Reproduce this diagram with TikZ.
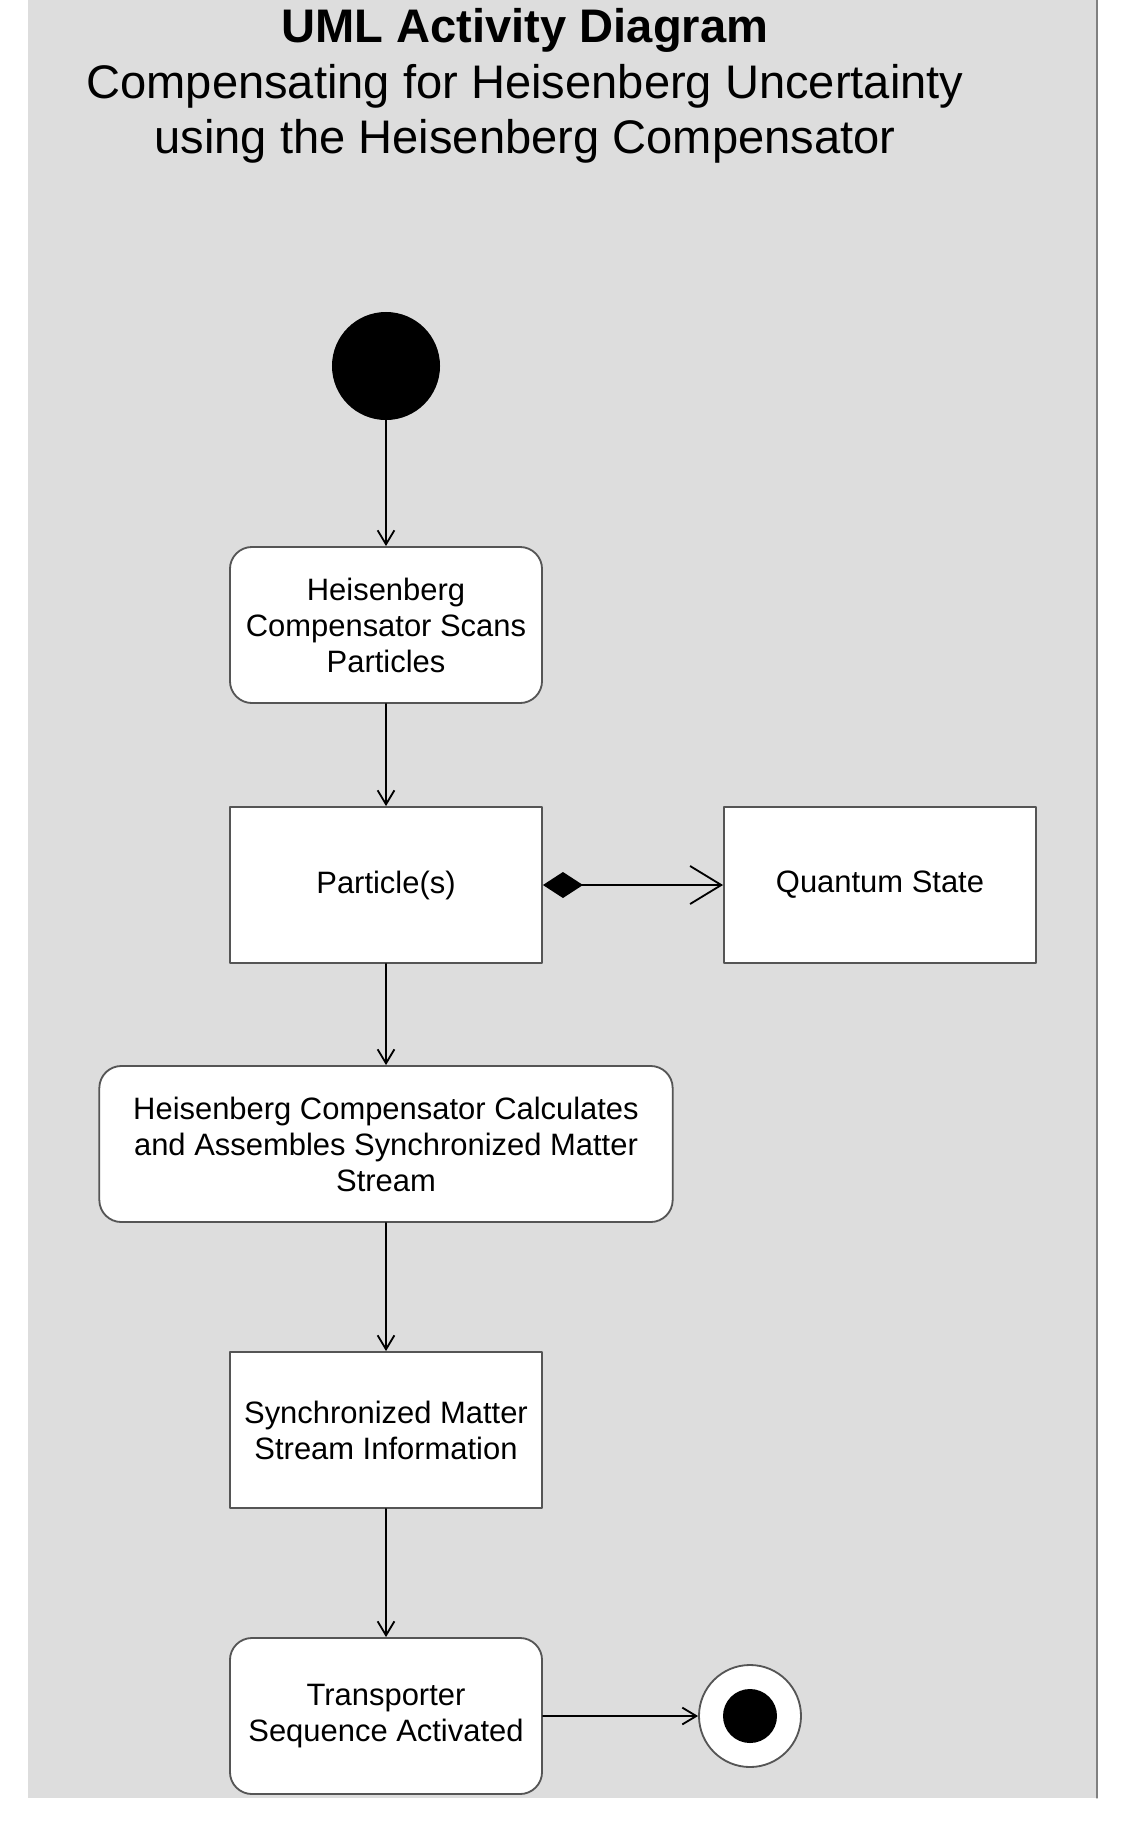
\documentclass[tikz,border=0pt]{standalone}
\usepackage{fontspec}
\setmainfont{Liberation Sans}
\usetikzlibrary{arrows.meta}

\definecolor{panelgrey}{RGB}{221,221,221}
\definecolor{edgegrey}{RGB}{85,85,85}

\newcommand{\titlefont}{\fontsize{33.5}{39.5}\selectfont}
\newcommand{\actfont}{\fontsize{22}{25.6}\selectfont}

\begin{document}
\begin{tikzpicture}[x=0.025cm, y=-0.025cm, line cap=round, line join=round]

  % ===== Styles =====
  \tikzset{
    action/.style={draw=edgegrey, fill=white, line width=1.3pt, rounded corners=0.55cm,
      minimum width=7.8cm, minimum height=3.9cm, inner sep=0pt, align=center, font=\actfont},
    object/.style={action, sharp corners},
    flow/.style={-{Straight Barb[length=0.35cm, width=0.42cm]}, line width=1.3pt},
  }

  % ===== Page and panel =====
  \useasboundingbox (0,0) rectangle (1128,1830);
  \fill[panelgrey] (28,0) rectangle (1097,1798);
  \draw[gray, line width=0.8pt] (1097,0) -- (1097,1798);

  % ===== Title =====
  \node[align=center, font=\titlefont] (title) at (525,86)
    {\textbf{UML Activity Diagram}\\Compensating for Heisenberg Uncertainty\\using the Heisenberg Compensator};

  % ===== Nodes =====
  \node[circle, fill=black, minimum size=2.7cm, inner sep=0pt] (start) at (386,366) {};

  \node[action] (scan) at (386,625) {Heisenberg\\Compensator Scans\\Particles};
  \node[object] (particles) at (386,885) {Particle(s)};
  \node[object] (quantum) at (880,885) {Quantum State};
  \node[action, minimum width=14.33cm] (calc) at (386,1144)
    {Heisenberg Compensator Calculates\\and Assembles Synchronized Matter\\Stream};
  \node[object] (stream) at (386,1430) {Synchronized Matter\\Stream Information};
  \node[action] (transport) at (386,1716) {Transporter\\Sequence Activated};

  \node[circle, draw=edgegrey, fill=white, line width=1.3pt, minimum size=2.55cm, inner sep=0pt] (final) at (750,1716) {};
  \node[circle, fill=black, minimum size=1.35cm, inner sep=0pt] (finaldot) at (final) {};

  % ===== Control flow =====
  \draw[flow] (start) -- (scan);
  \draw[flow] (scan) -- (particles);
  \draw[flow] (particles) -- (calc);
  \draw[flow] (calc) -- (stream);
  \draw[flow] (stream) -- (transport);
  \draw[flow] (transport) -- (final);

  % composition link to the state
  \draw[line width=1.3pt, {Diamond[length=1cm, width=0.65cm]}-{Straight Barb[length=0.78cm, width=0.95cm]}]
    (particles) -- (quantum);

\end{tikzpicture}
\end{document}
